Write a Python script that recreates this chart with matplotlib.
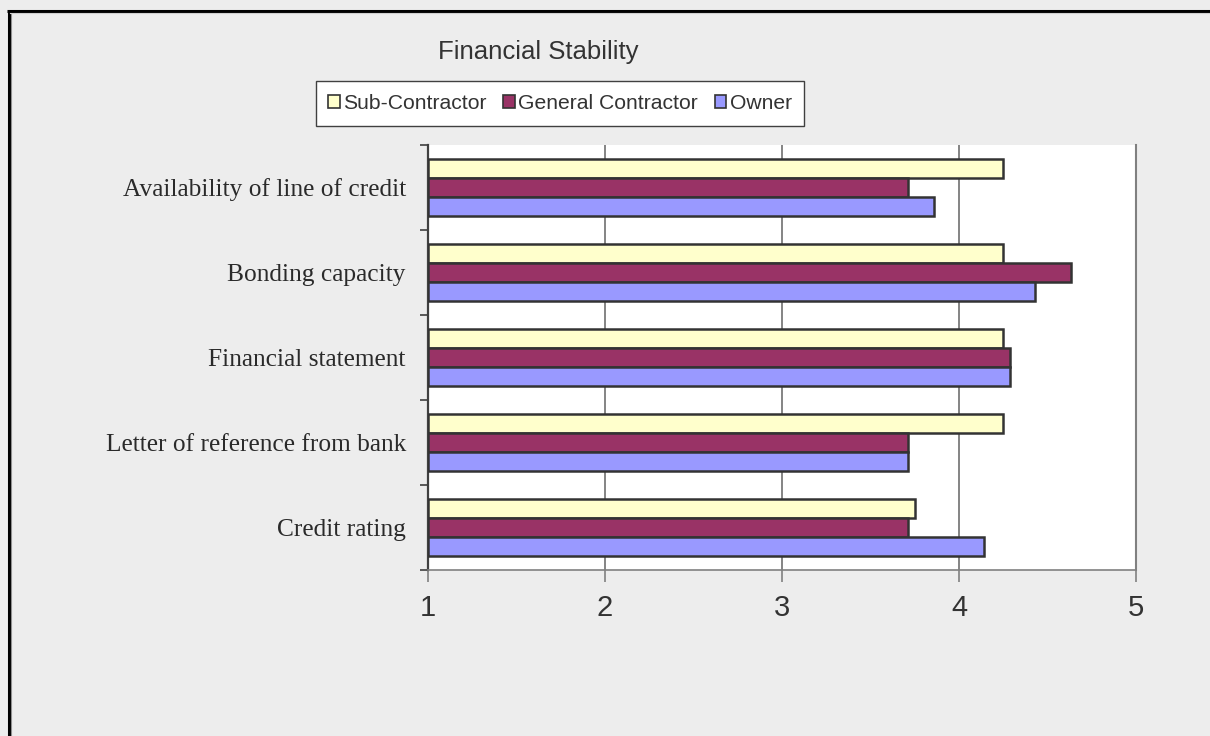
import numpy as np
import matplotlib
matplotlib.use("Agg")
import matplotlib.pyplot as plt
from matplotlib.lines import Line2D
from matplotlib.patches import Patch

# survey criteria, listed top to bottom
criteria = ["Availability of line of credit", "Bonding capacity",
            "Financial statement", "Letter of reference from bank",
            "Credit rating"]
series = ["Sub-Contractor", "General Contractor", "Owner"]
sub_contractor = [4.25, 4.25, 4.25, 4.25, 3.75]
general_contractor = [3.71, 4.63, 4.29, 3.71, 3.71]
owner = [3.86, 4.43, 4.29, 3.71, 4.14]
colors = ["#FFFFCC", "#993366", "#9999FF"]

bg = "#EDEDED"
fig = plt.figure(figsize=(12.1, 7.36), dpi=100, facecolor=bg)
ax = fig.add_axes([428 / 1210, 166 / 736, 708 / 1210, 425 / 736])
ax.set_facecolor("white")

y = np.arange(len(criteria))
h = 0.227
for k, vals in enumerate([sub_contractor, general_contractor, owner]):
    vals = np.array(vals)
    ax.barh(y + (k - 1) * h, vals - 1, left=1, height=h, color=colors[k],
            edgecolor="#333333", linewidth=1.8, zorder=3)

ax.set_xlim(1, 5)
ax.set_ylim(len(criteria) - 0.5, -0.5)

# x axis: plain numbers with gray ticks and gridlines
ax.set_xticks([1, 2, 3, 4, 5])
ax.set_xticklabels(["1", "2", "3", "4", "5"], fontsize=21,
                   family="Liberation Sans", color="#333333")
ax.tick_params(axis="x", direction="out", length=8.6, width=1.2,
               color="#808080", pad=9)
ax.grid(axis="x", color="#707070", linewidth=1.2, zorder=1)

# y axis: ticks at category boundaries, labels centred between them
ax.set_yticks(np.arange(len(criteria) + 1) - 0.5)
ax.set_yticklabels([])
ax.set_yticks(y, minor=True)
ax.set_yticklabels(criteria, minor=True, fontsize=18.3,
                   family="Liberation Serif", color="#2A2A2A")
ax.tick_params(axis="y", which="major", direction="out", length=5.8,
               width=1.2, color="#404040")
ax.tick_params(axis="y", which="minor", length=0, pad=16)

ax.spines["top"].set_visible(False)
ax.spines["left"].set_color("#404040")
ax.spines["left"].set_linewidth(1.6)
ax.spines["bottom"].set_color("#808080")
ax.spines["bottom"].set_linewidth(1.2)
ax.spines["right"].set_color("#808080")
ax.spines["right"].set_linewidth(1.5)

fig.text(538 / 1210, 1 - 59 / 736, "Financial Stability", ha="center",
         va="baseline", fontsize=18.5, family="Liberation Sans", color="#333333")

handles = [Patch(facecolor=c, edgecolor="#333333", linewidth=1.2) for c in colors]
leg = fig.legend(handles, series, loc="center", ncol=3,
                 bbox_to_anchor=(560 / 1210, 1 - 103.5 / 736),
                 prop={"family": "Liberation Sans", "size": 15.2},
                 handlelength=0.55, handleheight=0.55, handletextpad=0.15,
                 columnspacing=0.8, borderpad=0.6, fancybox=False,
                 framealpha=1, edgecolor="#404040")
leg.get_frame().set_linewidth(1.0)
for t in leg.get_texts():
    t.set_color("#333333")

# outer frame lines along the top and left edges
fig.add_artist(Line2D([8.5 / 1210, 8.5 / 1210], [0, 1 - 11 / 736],
                      transform=fig.transFigure, color="black", linewidth=2.2,
                      solid_capstyle="butt"))
fig.add_artist(Line2D([10.5 / 1210, 10.5 / 1210], [0, 1 - 12 / 736],
                      transform=fig.transFigure, color="#909090", linewidth=0.8))
fig.add_artist(Line2D([7 / 1210, 1], [1 - 11 / 736, 1 - 11 / 736],
                      transform=fig.transFigure, color="black", linewidth=2.2,
                      solid_capstyle="butt"))
fig.add_artist(Line2D([10 / 1210, 1], [1 - 12.8 / 736, 1 - 12.8 / 736],
                      transform=fig.transFigure, color="#D0D0D0", linewidth=0.8))

fig.savefig("out.png", dpi=100, facecolor=bg)
